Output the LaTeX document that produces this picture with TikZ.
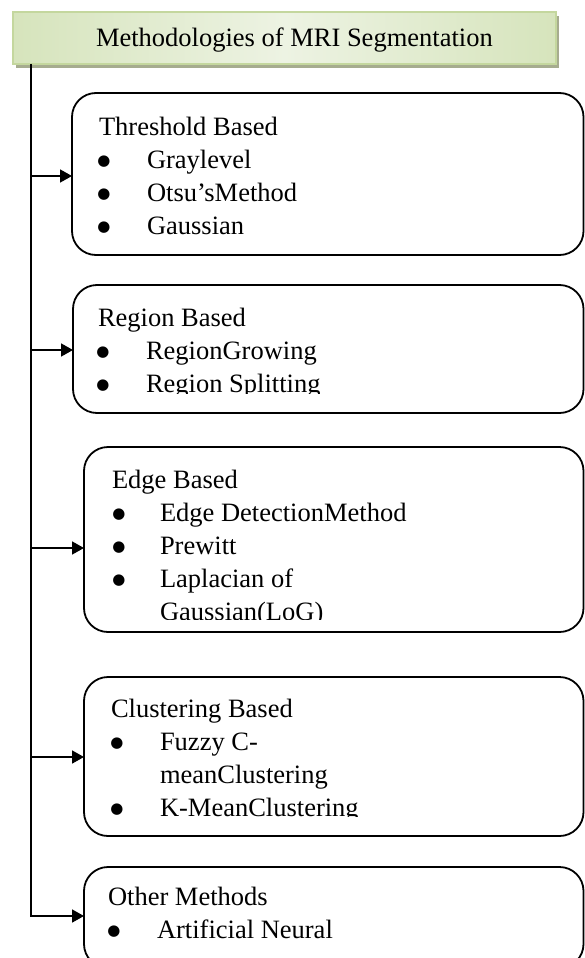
\documentclass[tikz,border=0pt]{standalone}
\usepackage{fontspec}
\setmainfont{Liberation Serif}
\newfontfamily\dvfont{DejaVu Sans}
\usetikzlibrary{arrows.meta}
\definecolor{gL}{HTML}{D6E4BC}
\definecolor{gM}{HTML}{EDF3E3}
\definecolor{gB}{HTML}{C4D79E}
\definecolor{shad}{HTML}{A6AC8F}
\begin{document}
\begin{tikzpicture}[x=1pt,y=-1pt,
  every node/.style={inner sep=0pt, outer sep=0pt},
  lbl/.style={anchor=base west, font=\fontsize{26.5}{33}\selectfont},
  bul/.style={anchor=base, yshift=2.5pt, font=\dvfont\fontsize{15}{15}\selectfont},
  mbox/.style={draw, line width=1.8pt, rounded corners=24pt, anchor=north west},
  titlebox/.style={anchor=north west, draw=gB, line width=1.5pt, left color=gL, right color=gL, middle color=gM},
  shadowbox/.style={anchor=north west, fill=shad},
  conn/.style={line width=1.7pt},
  arr/.style={conn, -{Triangle[length=12pt,width=13pt]}},
]
\useasboundingbox (0,0) rectangle (585,958);

% title
\node[shadowbox, minimum width=543pt, minimum height=52pt] (tshadow) at (16,16) {};
\node[titlebox, minimum width=543pt, minimum height=52pt] (title) at (13,12) {};
\node[lbl] (ttl) at (96,47) {Methodologies of MRI Segmentation};

% boxes
\node[mbox, minimum width=511.5pt, minimum height=162pt] (b1) at (72,93) {};
\node[mbox, minimum width=510.5pt, minimum height=128pt] (b2) at (73,285) {};
\node[mbox, minimum width=499.5pt, minimum height=185pt] (b3) at (84,447) {};
\node[mbox, minimum width=499.5pt, minimum height=159pt] (b4) at (84,677) {};
\node[mbox, minimum width=499.5pt, minimum height=101pt] (b5) at (84,867) {};

% box 1 text
\node[lbl] (h1) at (99,135) {Threshold Based};
\node[bul] (p1a) at (104,168) {●};
\node[lbl] (i1a) at (147,168) {Graylevel};
\node[bul] (p1b) at (104,201) {●};
\node[lbl] (i1b) at (147,201) {Otsu’sMethod};
\node[bul] (p1c) at (104,234) {●};
\node[lbl] (i1c) at (147,234) {Gaussian};

% box 2 text
\begin{scope}
\clip (74,286) rectangle (580,393);
\node[lbl] (h2) at (98,326) {Region Based};
\node[bul] (p2a) at (103,359) {●};
\node[lbl] (i2a) at (146,359) {RegionGrowing};
\node[bul] (p2b) at (103,392) {●};
\node[lbl] (i2b) at (146,392) {Region Splitting};
\end{scope}

% box 3 text
\begin{scope}
\clip (85,448) rectangle (580,619);
\node[lbl] (h3) at (112,488) {Edge Based};
\node[bul] (p3a) at (119,521) {●};
\node[lbl] (i3a) at (160,521) {Edge DetectionMethod};
\node[bul] (p3b) at (119,554) {●};
\node[lbl] (i3b) at (160,554) {Prewitt};
\node[bul] (p3c) at (119,587) {●};
\node[lbl] (i3c) at (160,587) {Laplacian of};
\node[lbl] (i3d) at (160,620) {Gaussian(LoG)};
\end{scope}

% box 4 text
\begin{scope}
\clip (85,678) rectangle (580,816);
\node[lbl] (h4) at (111,717) {Clustering Based};
\node[bul] (p4a) at (117,750) {●};
\node[lbl] (i4a) at (160,750) {Fuzzy C-};
\node[lbl] (i4b) at (160,783) {meanClustering};
\node[bul] (p4b) at (117,816) {●};
\node[lbl] (i4c) at (160,816) {K-MeanClustering};
\end{scope}

% box 5 text
\node[lbl] (h5) at (108,905) {Other Methods};
\node[bul] (p5a) at (114,938) {●};
\node[lbl] (i5a) at (157,938) {Artificial Neural};

% connectors
\coordinate (trunk) at ([xshift=18pt]title.south west);
\coordinate (j1) at (31,176);
\coordinate (j2) at (31,350);
\coordinate (j3) at (31,548);
\coordinate (j4) at (31,757);
\coordinate (j5) at (31,916);
\draw[arr] (trunk) -- (j5) -- (j5 -| b5.west);
\draw[arr] (j1) -- (j1 -| b1.west);
\draw[arr] (j2) -- (j2 -| b2.west);
\draw[arr] (j3) -- (j3 -| b3.west);
\draw[arr] (j4) -- (j4 -| b4.west);
\end{tikzpicture}
\end{document}
